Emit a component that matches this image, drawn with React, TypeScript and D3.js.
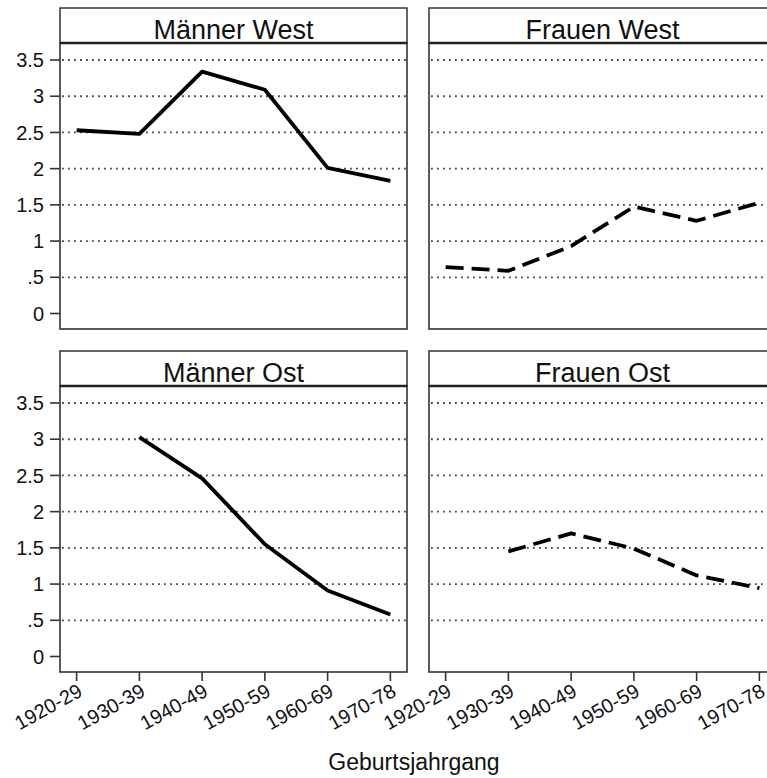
import React from "react";
import * as d3 from "d3";

const cohorts = ["1920-29", "1930-39", "1940-49", "1950-59", "1960-69", "1970-78"];
const yTicks = [0, 0.5, 1, 1.5, 2, 2.5, 3, 3.5];
const yTickLabels = ["0", ".5", "1", "1.5", "2", "2.5", "3", "3.5"];

const maennerWest: (number | null)[] = [2.53, 2.48, 3.34, 3.09, 2.01, 1.83];
const frauenWest: (number | null)[] = [0.64, 0.59, 0.93, 1.475, 1.28, 1.53];
const maennerOst: (number | null)[] = [null, 3.03, 2.46, 1.55, 0.91, 0.58];
const frauenOst: (number | null)[] = [null, 1.45, 1.7, 1.49, 1.12, 0.945];

const panels = [
  { title: "Männer West", values: maennerWest, col: 0, row: 0, dashed: false },
  { title: "Frauen West", values: frauenWest, col: 1, row: 0, dashed: true },
  { title: "Männer Ost", values: maennerOst, col: 0, row: 1, dashed: false },
  { title: "Frauen Ost", values: frauenOst, col: 1, row: 1, dashed: true },
];

const W = 767;
const H = 778;
const FONT = "'Liberation Sans', Arial, Helvetica, sans-serif";
const colX = [60, 429];
const panelW = 347;
const rowY = [43, 386];
const plotH = 286;
const headerH = 35;

export default function App() {
  const yScale = d3.scaleLinear().domain([-0.214, 3.735]).range([plotH, 0]);
  return (
    <svg
      width={W}
      height={H}
      style={{ position: "absolute", left: 0, top: 0, background: "#fff" }}
      fontFamily={FONT}
    >
      {panels.map((p, i) => {
        const x0 = colX[p.col];
        const y0 = rowY[p.row];
        const xScale = d3
          .scalePoint<string>()
          .domain(cohorts)
          .range([0, panelW])
          .padding(0.265);
        const line = d3
          .line<number | null>()
          .defined((d) => d !== null)
          .x((_, j) => xScale(cohorts[j])!)
          .y((d) => yScale(d as number));
        const isBottom = p.row === 1;
        const isLeft = p.col === 0;
        return (
          <g key={i} transform={`translate(${x0},${y0})`}>
            <rect x={0} y={-headerH} width={panelW} height={headerH} fill="#fff" stroke="#333" strokeWidth={1.5} />
            <text x={panelW / 2} y={-4} textAnchor="middle" fontSize={27} fill="#111">
              {p.title}
            </text>
            {yTicks
              .filter((t) => t > 0)
              .map((t) => (
                <line
                  key={t}
                  x1={2}
                  x2={panelW}
                  y1={yScale(t)}
                  y2={yScale(t)}
                  stroke="#444"
                  strokeWidth={1.8}
                  strokeDasharray="1.8 4.2"
                />
              ))}
            <rect x={0} y={0} width={panelW} height={plotH} fill="none" stroke="#333" strokeWidth={1.6} />
            <line x1={0} x2={panelW} y1={0} y2={0} stroke="#222" strokeWidth={2.6} />
            <path
              d={line(p.values) || ""}
              fill="none"
              stroke="#000"
              strokeWidth={3.8}
              strokeLinejoin="round"
              strokeDasharray={p.dashed ? "18 8" : undefined}
            />
            {isLeft &&
              yTicks.map((t, k) => (
                <g key={t} transform={`translate(0,${yScale(t)})`}>
                  <line x1={-10} x2={0} stroke="#333" strokeWidth={1.6} />
                  <text x={-16} dy="0.36em" textAnchor="end" fontSize={20} fill="#111">
                    {yTickLabels[k]}
                  </text>
                </g>
              ))}
            {isBottom &&
              cohorts.map((c) => (
                <g key={c} transform={`translate(${xScale(c)},${plotH})`}>
                  <line y1={0} y2={9} stroke="#333" strokeWidth={1.6} />
                  <text
                    transform={`translate(7,23) rotate(-29)`}
                    textAnchor="end"
                    fontSize={20}
                    fill="#111"
                  >
                    {c}
                  </text>
                </g>
              ))}
          </g>
        );
      })}
      <text x={414} y={770} textAnchor="middle" fontSize={23} fill="#111">
        Geburtsjahrgang
      </text>
    </svg>
  );
}
